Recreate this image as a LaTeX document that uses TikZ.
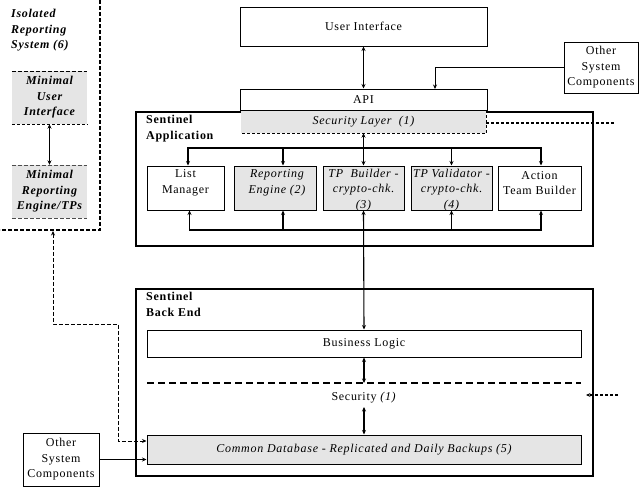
\documentclass[tikz,border=0pt]{standalone}
\usepackage{fontspec}
\setmainfont{Liberation Serif}[LetterSpace=6]
\usetikzlibrary{arrows.meta}
\newcommand{\fs}{\fontsize{12}{15.5}\selectfont}
\begin{document}
\begin{tikzpicture}[x=1pt,y=-1pt,
  rm/.style={font=\fs},
  it/.style={font=\fs\itshape},
  bfn/.style={font=\fs\bfseries},
  bi/.style={font=\fs\bfseries\itshape},
  box/.style={draw, line width=1pt, inner sep=0pt},
  gbox/.style={box, fill=black!10},
  outer/.style={draw, line width=1.7pt, inner sep=0pt},
  txt/.style={align=center, inner sep=0pt},
  tip/.tip={Stealth[length=4.5pt,width=4pt]},
  arr/.style={line width=1.1pt,-tip},
  darr/.style={line width=1.1pt,tip-tip},
  bdot/.style={line width=1.4pt, dash pattern=on 3pt off 2pt},
  dsh/.style={line width=0.9pt, dash pattern=on 4pt off 2pt},
  ]
\useasboundingbox[fill=white] (0,0) rectangle (640,490);

% ---------- Isolated reporting system ----------
\draw[dsh, line width=1.1pt] (100,0) -- (100,230) -- (0,230);
\node[bi, anchor=north west, align=left, inner sep=0pt] (iso) at (11,9) {Isolated\\Reporting\\System (6)};
\node[fill=black!10, minimum width=75pt, minimum height=53pt, inner sep=0pt] (mui) at (49.5,97.5) {};
\draw[dsh, line width=0.6pt] (mui.north west) -- (mui.north east);
\draw[bdot] (mui.south west) -- (mui.south east);
\node[bi, txt] (muit) at (49.5,97.5) {Minimal\\User\\Interface};
\node[fill=black!10, minimum width=75pt, minimum height=53pt, inner sep=0pt] (mre) at (49.5,191.5) {};
\draw[dsh, line width=0.6pt, black!70] (mre.north west) -- (mre.north east);
\draw[dsh, line width=0.6pt, black!70] (mre.south west) -- (mre.south east);
\node[bi, txt] (mret) at (49.5,191.5) {Minimal\\Reporting\\Engine/TPs};
\draw[darr] (mre.north) -- (mui.south);

% ---------- top ----------
\node[box, rm, minimum width=247pt, minimum height=39pt] (ui) at (363.5,26.5) {User Interface};
\node[box, rm, align=center, minimum width=74pt, minimum height=51pt] (oth1) at (601,67.5) {Other\\System\\Components};

% ---------- Sentinel Application ----------
\node[outer, minimum width=457pt, minimum height=134pt] (app) at (364.5,179) {};
\node[bfn, anchor=north west, align=left, inner sep=0pt] (appl) at (146,115) {Sentinel\\Application};
\node[fill=black!10, minimum width=245pt, minimum height=23pt, inner sep=0pt] (sec) at (363.5,121.5) {};
\node[it] (sect) at (363.5,122) {Security Layer\ \ (1)};
\draw[bdot] (sec.north east) -- (sec.south east) -- (sec.south west);
\node[box, rm, minimum width=247pt, minimum height=21pt] (api) at (363.5,99.5) {API};
\coordinate (secR) at (616,123);
\draw[bdot] ([yshift=-1.5pt]sec.east) -- (secR);

\draw[darr] (ui.south) -- (api.north);
\coordinate (apiin) at (435,89);
\draw[arr, line width=0.8pt] (oth1.west) -| (apiin);

\node[box, minimum width=77pt, minimum height=44pt] (lm) at (185.5,188) {};
\node[gbox, minimum width=82pt, minimum height=44pt] (re) at (275,188) {};
\node[gbox, minimum width=81pt, minimum height=44pt] (tpb) at (363.5,188) {};
\node[gbox, minimum width=81pt, minimum height=44pt] (tpv) at (451.5,188) {};
\node[box, minimum width=83pt, minimum height=44pt] (atb) at (539.5,188) {};
\node[rm, txt] (lmt) at (185.5,183) {List\\Manager};
\node[it, txt] (ret) at (277,183) {Reporting\\Engine (2)};
\node[it, txt] (tpbt) at (363.5,190) {TP\ \ Builder -\\crypto-chk.\\(3)};
\node[it, txt] (tpvt) at (451.5,190) {TP Validator -\\crypto-chk.\\(4)};
\node[rm, txt] (atbt) at (539.5,183) {Action\\Team Builder};

\coordinate (tb) at (363.5,148);
\draw[arr] (tb) -| ([xshift=2.5pt]lm.north);
\draw[arr] (tb) -| ([xshift=8pt]re.north);
\draw[arr] (tb) -| (tpv.north);
\draw[arr] (tb) -| ([xshift=1.5pt]atb.north);
\draw[darr] (sec.south) -- (tpb.north);
\coordinate (bb) at (363.5,230);
\draw[arr] (bb) -| ([xshift=4pt]lm.south);
\draw[arr] (bb) -| ([xshift=8pt]re.south);
\draw[arr] (bb) -| (tpv.south);
\draw[arr] (bb) -| ([xshift=1.5pt]atb.south);

% ---------- Sentinel Back End ----------
\node[outer, minimum width=457pt, minimum height=187pt] (be) at (364.5,382.5) {};
\node[bfn, anchor=north west, align=left, inner sep=0pt] (bel) at (146,292) {Sentinel\\Back End};
\node[box, rm, minimum width=434pt, minimum height=27pt] (bl) at (364,343.5) {Business Logic};
\draw[darr] (tpb.south) -- (bl.north);
\draw[line width=1.2pt, dash pattern=on 7pt off 4pt] (147,383) -- (581,383);
\coordinate (dl) at (364,383);
\draw[darr] (bl.south) -- (dl);
\node[rm] (sct) at (364,398) {Security \textit{(1)}};
\node[gbox, it, minimum width=434pt, minimum height=29pt] (db) at (364,449.5) {\raisebox{-3pt}{Common Database - Replicated and Daily Backups (5)}};
\draw[darr] (sct.south) -- (db.north);
\coordinate (rin) at (618,395);
\coordinate (rtip) at (586,395);
\draw[bdot, -tip] (rin) -- (rtip);

\node[box, rm, align=center, minimum width=76pt, minimum height=53pt] (oth2) at (61,459.5) {Other\\System\\Components};
\draw[arr, line width=0.8pt] (oth2.east) -- (oth2.east -| db.west);
\coordinate (isoB) at (53,231);
\draw[dsh, tip-tip] (isoB) -- (53,324) -- (118,324) -- (118,441) -- ([yshift=8.5pt]db.west);
\end{tikzpicture}
\end{document}
